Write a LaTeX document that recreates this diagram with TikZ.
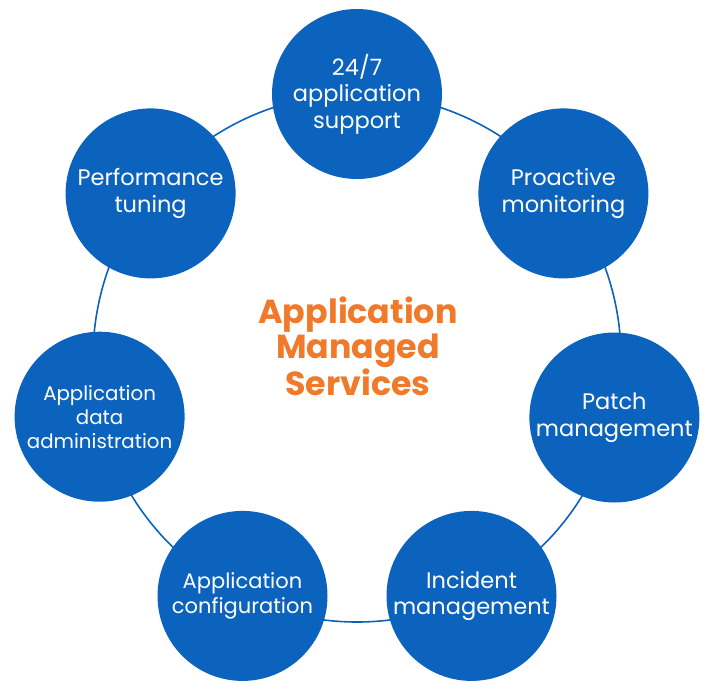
\documentclass[tikz,border=0pt]{standalone}
\usepackage{fontspec}
\setmainfont{Poppins}
\definecolor{svcblue}{RGB}{12,99,190}
\definecolor{svcorange}{RGB}{240,122,42}
\begin{document}
\begin{tikzpicture}[x=1pt,y=-1pt,
  svc/.style={circle,fill=svcblue,minimum size=170pt,inner sep=0pt,
    text=white,align=center,font=\fontsize{22.5}{26.5}\selectfont},
  svcsmall/.style={svc,font=\fontsize{21}{25.5}\selectfont},
  svctiny/.style={svc,font=\fontsize{19.8}{24}\selectfont},
  hub/.style={align=center,text=svcorange,font=\fontsize{33.3}{35.5}\selectfont\bfseries},
  ringline/.style={draw=svcblue,line width=1.6pt}]
  \useasboundingbox (0,0) rectangle (710,697);
  % ring linking the services
  \node[ringline,circle,minimum size=528pt,inner sep=0pt] (ring) at (357,358) {};
  % services, evenly spaced around the ring
  \node[svc] (s1) at (357,94)    {24/7\\application\\support};
  \node[svc] (s2) at (563.4,193.4) {Proactive\\monitoring};
  \node[svc] (s3) at (614.4,417.5) {Patch\\management};
  \node[svc] (s4) at (471.5,595.9) {Incident\\management};
  \node[svcsmall] (s5) at (242.5,595.9) {Application\\configuration};
  \node[svctiny] (s6) at (99.6,416.7)  {Application\\data\\administration};
  \node[svc] (s7) at (150.6,193.4) {Performance\\tuning};
  % title in the middle
  \node[hub] (title) at (358,346) {Application\\Managed\\Services};
\end{tikzpicture}
\end{document}
